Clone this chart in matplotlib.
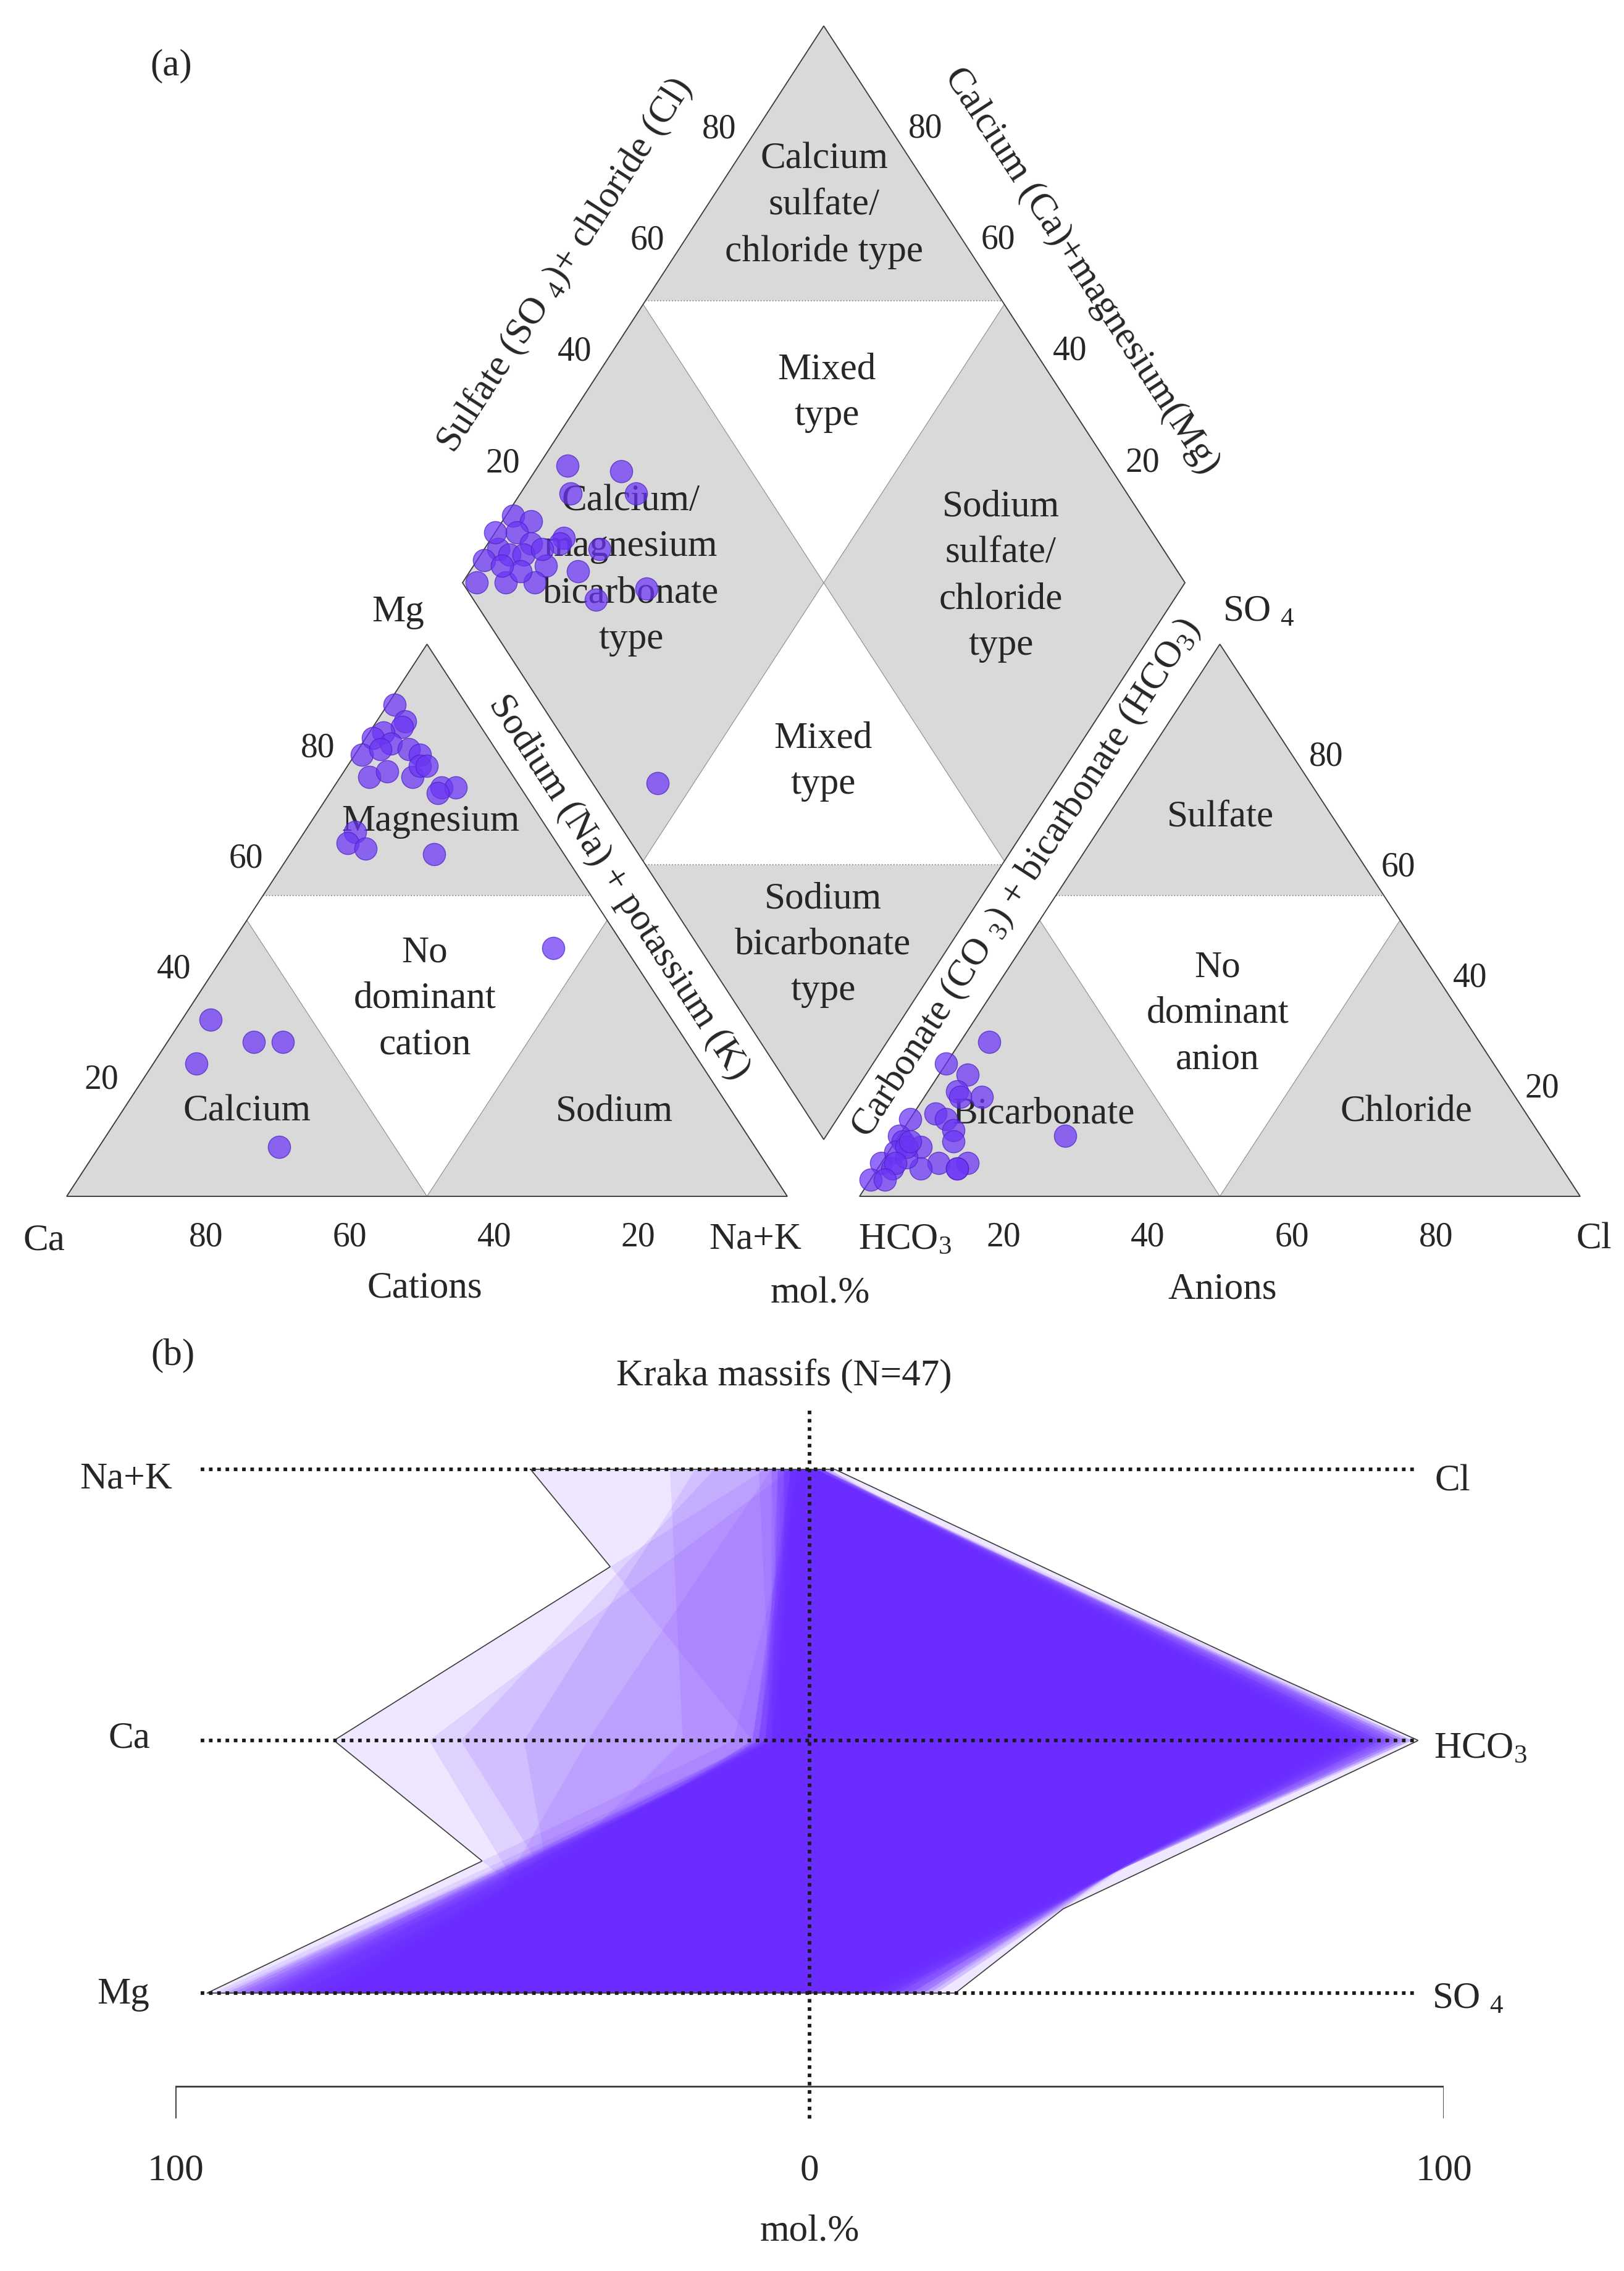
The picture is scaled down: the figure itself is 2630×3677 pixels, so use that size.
import numpy as np
import matplotlib
matplotlib.use("Agg")
import matplotlib.pyplot as plt
from matplotlib.patches import Polygon

plt.rcParams['font.family'] = ['Liberation Serif', 'DejaVu Serif']
plt.rcParams['mathtext.fontset'] = 'custom'
plt.rcParams['mathtext.rm'] = 'Liberation Serif'
plt.rcParams['mathtext.it'] = 'Liberation Serif:italic'

# ---------------- (a) Piper diagram, mol.% ----------------
# cation triangle
cat_ca = [10, 10, 11, 14, 16, 14, 12, 11, 19, 16, 20, 17, 14, 12, 11, 11, 9, 12,
          27, 29, 27, 18, 10, 64, 60, 56, 70, 66]
cat_mg = [89, 86, 85, 84, 83, 82, 81, 80, 80, 81, 76, 77, 76, 78, 78, 74, 74, 73,
          66, 64, 63, 62, 45, 32, 28, 28, 24, 9]
cat_na = [1, 4, 4, 2, 1, 4, 7, 9, 1, 3, 4, 6, 10, 10, 11, 15, 17, 15,
          7, 7, 10, 20, 45, 4, 12, 16, 6, 25]

# anion triangle
an_so4 = [28, 24, 22, 19, 18, 18, 15, 14, 14, 12, 10, 11, 11, 10, 9, 6, 6, 5, 5,
          6, 8, 5, 3, 7, 9, 5, 10, 6, 3]
an_cl = [4, 0, 4, 4, 8, 5, 3, 0, 5, 7, 8, 23, 0, 1, 4, 8, 12, 11, 6,
         0, 1, 2, 0, 3, 2, 11, 2, 2, 2]
an_hco3 = [68, 76, 74, 77, 74, 77, 82, 86, 81, 81, 82, 66, 89, 89, 87, 86, 82, 84, 89,
           94, 91, 93, 97, 90, 89, 84, 88, 92, 95]

# diamond: Na+K (% of cations) and SO4+Cl (% of anions)
dia_na = [4, 12, 7, 16, 1, 4, 10, 10, 3, 6, 2, 4, 1, 6, 10, 16, 15, 2, 6, 10, 7,
          26, 20, 0, 8, 4, 45]
dia_clso4 = [25, 32, 23, 32, 13, 15, 18, 17, 12, 13, 8, 9, 5, 11, 13, 22, 17, 2, 6, 10, 9,
             25, 17, 9, 14, 7, 9]

# ---------------- (b) Kraka massifs, N=47 ----------------
stiff_na = [44, 7, 1, 15, 18, 3, 6, 22, 2, 3, 1, 4, 2, 5, 3, 1, 2, 6, 4, 3, 2, 1, 5, 3,
            2, 4, 8, 2, 3, 1, 2, 5, 3, 4, 2, 1, 3, 2, 6, 3, 2, 4, 1, 3, 2, 5, 2]
stiff_ca = [9, 75, 12, 55, 45, 60, 35, 20, 5, 7, 4, 8, 6, 3, 9, 5, 7, 6, 4, 8, 5, 6, 7, 3,
            9, 4, 6, 5, 8, 7, 4, 6, 5, 3, 8, 6, 7, 5, 4, 9, 6, 5, 7, 4, 8, 6, 5]
stiff_mg = [47, 26, 95, 30, 38, 36, 58, 60, 86, 80, 92, 75, 84, 90, 70, 88, 82, 78,
            91, 73, 85, 83, 68, 93, 76, 87, 79, 89, 72, 94, 81, 86, 74, 66, 88, 91,
            77, 84, 90, 71, 83, 69, 87, 80, 85, 92, 79]
stiff_cl = [2, 3, 1, 2, 1, 4, 2, 1, 0, 1, 0, 2, 1, 0, 1, 2, 1, 3, 0, 1, 2, 0, 1, 2,
            1, 0, 3, 1, 2, 0, 1, 2, 1, 0, 1, 2, 1, 0, 2, 1, 0, 1, 2, 1, 0, 1, 1]
stiff_hco3 = [88, 85, 93, 74, 96, 95, 82, 90, 90, 84, 94, 82, 88, 95, 80, 89, 86, 79,
              93, 83, 91, 87, 81, 90, 85, 92, 78, 88, 84, 95, 82, 91, 86, 80, 93, 89,
              83, 94, 87, 81, 90, 85, 92, 79, 88, 94, 86]
stiff_so4 = [10, 12, 6, 23, 12, 1, 16, 9, 10, 15, 6, 16, 11, 5, 19, 9, 13, 18,
             7, 16, 7, 13, 18, 8, 14, 8, 19, 11, 14, 5, 17, 7, 13, 20, 6, 9,
             16, 6, 11, 18, 10, 14, 6, 20, 12, 5, 13]

GREY = '#d9d9d9'
EDGE = '#3a3a3a'
THIN = '#8c8c8c'
TXT = '#262626'
DOT = '#6a35f5'
FILL = '#6b2cff'
FS = 44
FS_NUM = 40
LS = 1.45

W, HH = 2630, 3677
fig = plt.figure(figsize=(W / 100, HH / 100), dpi=100)

# ---- panel (a): axes in pixel units ----
TOP_H = 2150
ax = fig.add_axes([0, 1 - TOP_H / HH, 1, TOP_H / HH])
ax.set_xlim(0, W)
ax.set_ylim(TOP_H, 0)
ax.axis('off')

S = 1167.0      # triangle side
H = 894.0       # triangle height (figure is squashed vertically)
BASE = 1937.0
CAT_X0 = 108.0
AN_X0 = 1392.0
TOP_CUT = 54.5  # Mg / SO4 dominant region starts a bit above 50 %

DL = (749.0, 943.5)
DT = (1334.0, 42.0)
DB = (1334.0, 1845.0)


def tri(x0, r, t):
    return (x0 + S * (r + t / 2) / 100.0, BASE - H * t / 100.0)


def dia(a, b):
    a = np.asarray(a, float) / 100.0
    b = np.asarray(b, float) / 100.0
    return (DL[0] + a * (DB[0] - DL[0]) + b * (DT[0] - DL[0]),
            DL[1] + a * (DB[1] - DL[1]) + b * (DT[1] - DL[1]))


# triangles
for x0 in (CAT_X0, AN_X0):
    ax.add_patch(Polygon([tri(x0, 0, TOP_CUT), tri(x0, 100 - TOP_CUT, TOP_CUT), tri(x0, 0, 100)],
                         fc=GREY, ec='none', zorder=1))
    ax.add_patch(Polygon([tri(x0, 0, 0), tri(x0, 50, 0), tri(x0, 0, 50)],
                         fc=GREY, ec=THIN, lw=0.8, zorder=1))
    ax.add_patch(Polygon([tri(x0, 50, 0), tri(x0, 100, 0), tri(x0, 50, 50)],
                         fc=GREY, ec=THIN, lw=0.8, zorder=1))
    p1, p2 = tri(x0, 0, TOP_CUT), tri(x0, 100 - TOP_CUT, TOP_CUT)
    ax.plot([p1[0], p2[0]], [p1[1], p2[1]], ls=':', color=THIN, lw=1.3, zorder=2)
    ax.add_patch(Polygon([tri(x0, 0, 0), tri(x0, 100, 0), tri(x0, 0, 100)],
                         fc='none', ec=EDGE, lw=1.3, zorder=3))

# diamond
cut = 50 + 6 / (DL[1] - DT[1]) * 100
ax.add_patch(Polygon([dia(0, 0), dia(0, 50), dia(50, 50), dia(50, 0)], fc=GREY, ec=THIN, lw=0.8, zorder=1))
ax.add_patch(Polygon([dia(50, 50), dia(50, 100), dia(100, 100), dia(100, 50)], fc=GREY, ec=THIN, lw=0.8, zorder=1))
ax.add_patch(Polygon([dia(0, cut), dia(0, 100), dia(100 - cut, 100)], fc=GREY, ec='none', zorder=1))
ax.add_patch(Polygon([dia(cut, 0), dia(100, 0), dia(100, 100 - cut)], fc=GREY, ec='none', zorder=1))
for pa, pb in ((dia(0, cut), dia(100 - cut, 100)), (dia(cut, 0), dia(100, 100 - cut))):
    ax.plot([pa[0], pb[0]], [pa[1], pb[1]], ls=':', color=THIN, lw=1.3, zorder=2)
ax.add_patch(Polygon([dia(0, 0), dia(0, 100), dia(100, 100), dia(100, 0)], fc='none', ec=EDGE, lw=1.3, zorder=3))

# samples
tot = np.array(cat_ca) + np.array(cat_mg) + np.array(cat_na)
cx, cy = tri(CAT_X0, np.array(cat_na) * 100 / tot, np.array(cat_mg) * 100 / tot)
tot = np.array(an_hco3) + np.array(an_so4) + np.array(an_cl)
axx, ayy = tri(AN_X0, np.array(an_cl) * 100 / tot, np.array(an_so4) * 100 / tot)
dx, dy = dia(dia_na, dia_clso4)
for xs, ys in ((cx, cy), (axx, ayy), (dx, dy)):
    ax.scatter(xs, ys, s=680, c=DOT, alpha=0.72, edgecolors='#4a1fc4', linewidths=1.0, zorder=6)

# region labels
kw = dict(ha='center', va='center', fontsize=FS, color=TXT, linespacing=LS, zorder=4)
ax.text(697, 1330, 'Magnesium', **kw)
ax.text(688, 1617, 'No\ndominant\ncation', **kw)
ax.text(400, 1800, 'Calcium', **kw)
ax.text(995, 1800, 'Sodium', **kw)
ax.text(1976, 1323, 'Sulfate', **kw)
ax.text(1972, 1641, 'No\ndominant\nanion', **kw)
ax.text(1690, 1804, 'Bicarbonate', **kw)
ax.text(2277, 1800, 'Chloride', **kw)
ax.text(1335, 333, 'Calcium\nsulfate/\nchloride type', **kw)
ax.text(1339, 636, 'Mixed\ntype', **kw)
ax.text(1022, 923, 'Calcium/\nmagnesium\nbicarbonate\ntype', **kw)
ax.text(1621, 933, 'Sodium\nsulfate/\nchloride\ntype', **kw)
ax.text(1333, 1233, 'Mixed\ntype', **kw)
ax.text(1333, 1530, 'Sodium\nbicarbonate\ntype', **kw)

# tick values
nk = dict(ha='center', va='center', fontsize=FS_NUM, color=TXT)
for v in (20, 40, 60, 80):
    x, y = tri(CAT_X0, 0, v)
    ax.text(x - 60, y - 10, str(v), **nk)
    x, y = tri(CAT_X0, v, 0)
    ax.text(x - 8, 2003, str(100 - v), **nk)
    x, y = tri(AN_X0, 100 - v, v)
    ax.text(x + 55, y + 4, str(v), **nk)
    x, y = tri(AN_X0, v, 0)
    ax.text(x, 2003, str(v), **nk)
    x, y = dia(0, v)
    ax.text(x - 52, y - 13, str(v), **nk)
    x, y = dia(100 - v, 100)
    ax.text(x + 48, y - 14, str(v), **nk)

ck = dict(ha='center', va='center', fontsize=FS, color=TXT)
ax.text(71, 2009, 'Ca', **ck)
ax.text(1223, 2007, 'Na+K', **ck)
ax.text(645, 991, 'Mg', **ck)
ax.text(1466, 2007, r'HCO$_3$', **ck)
ax.text(2581, 2007, 'Cl', **ck)
ax.text(2038, 991, r'SO $_4$', **ck)
ax.text(688, 2086, 'Cations', **ck)
ax.text(1980, 2088, 'Anions', **ck)
ax.text(1328, 2095, 'mol.%', **ck)
ax.text(277, 107, '(a)', **ck)

ang = np.degrees(np.arctan2(DL[1] - DT[1], DT[0] - DL[0]))
rk = dict(ha='center', va='center', fontsize=FS, color=TXT, rotation_mode='anchor')
ax.text(915, 430, r'Sulfate (SO $_4$)+ chloride (Cl)', rotation=ang, **rk)
ax.text(1751, 439, 'Calcium (Ca)+magnesium(Mg)', rotation=-ang, **rk)
ax.text(1002, 1437, 'Sodium (Na) + potassium (K)', rotation=-ang, **rk)
ax.text(1662, 1422, r'Carbonate (CO $_3$) + bicarbonate (HCO$_3$)', rotation=ang, **rk)

# ---- panel (b): x in mol.%, y in pixels ----
B_TOP = 2150
axb = fig.add_axes([284 / W, 0, (2338 - 284) / W, 1 - B_TOP / HH])
axb.set_xlim(-100, 100)
axb.set_ylim(HH, B_TOP)
axb.axis('off')

LEV = [2379.0, 2818.0, 3227.0]
n = len(stiff_na)
for i in range(n):
    verts = [(-stiff_na[i], LEV[0]), (-stiff_ca[i], LEV[1]), (-stiff_mg[i], LEV[2]),
             (stiff_so4[i], LEV[2]), (stiff_hco3[i], LEV[1]), (stiff_cl[i], LEV[0])]
    axb.add_patch(Polygon(verts, closed=True, fc=FILL, ec='none', alpha=0.11, zorder=2))

yy = np.linspace(LEV[0], LEV[2], 900)
left = np.max([np.interp(yy, LEV, [stiff_na[i], stiff_ca[i], stiff_mg[i]]) for i in range(n)], axis=0)
right = np.max([np.interp(yy, LEV, [stiff_cl[i], stiff_hco3[i], stiff_so4[i]]) for i in range(n)], axis=0)
ox = np.concatenate([-left, right[::-1], [-left[0]]])
oy = np.concatenate([yy, yy[::-1], [yy[0]]])
axb.plot(ox, oy, color=EDGE, lw=1.2, zorder=3)

DOTS = (0, (1, 1.3))
for y in LEV:
    axb.plot([-96, 96], [y, y], color='#1a1a1a', lw=4.2, ls=DOTS, zorder=4)
axb.plot([0, 0], [2284, 3432], color='#1a1a1a', lw=4.2, ls=DOTS, zorder=4)

axb.plot([-100, -100, 100, 100], [3428, 3378, 3378, 3428], color=EDGE, lw=2.0, zorder=4)

bk = dict(ha='center', va='center', fontsize=FS, color=TXT)
axb.text(-100, 3515, '100', **bk)
axb.text(0, 3515, '0', **bk)
axb.text(100, 3515, '100', **bk)
axb.text(0, 3614, 'mol.%', **bk)
axb.text(-4, 2228, 'Kraka massifs (N=47)', **bk)
axb.text(-107.8, 2395, 'Na+K', **bk)
axb.text(-107.3, 2815, 'Ca', **bk)
axb.text(-108.2, 3229, 'Mg', **bk)
axb.text(101.4, 2399, 'Cl', **bk)
axb.text(105.8, 2831, r'HCO$_3$', **bk)
axb.text(103.8, 3237, r'SO $_4$', **bk)
ax.text(280, 2195, '(b)', **ck)

fig.savefig('out.png', dpi=100)
